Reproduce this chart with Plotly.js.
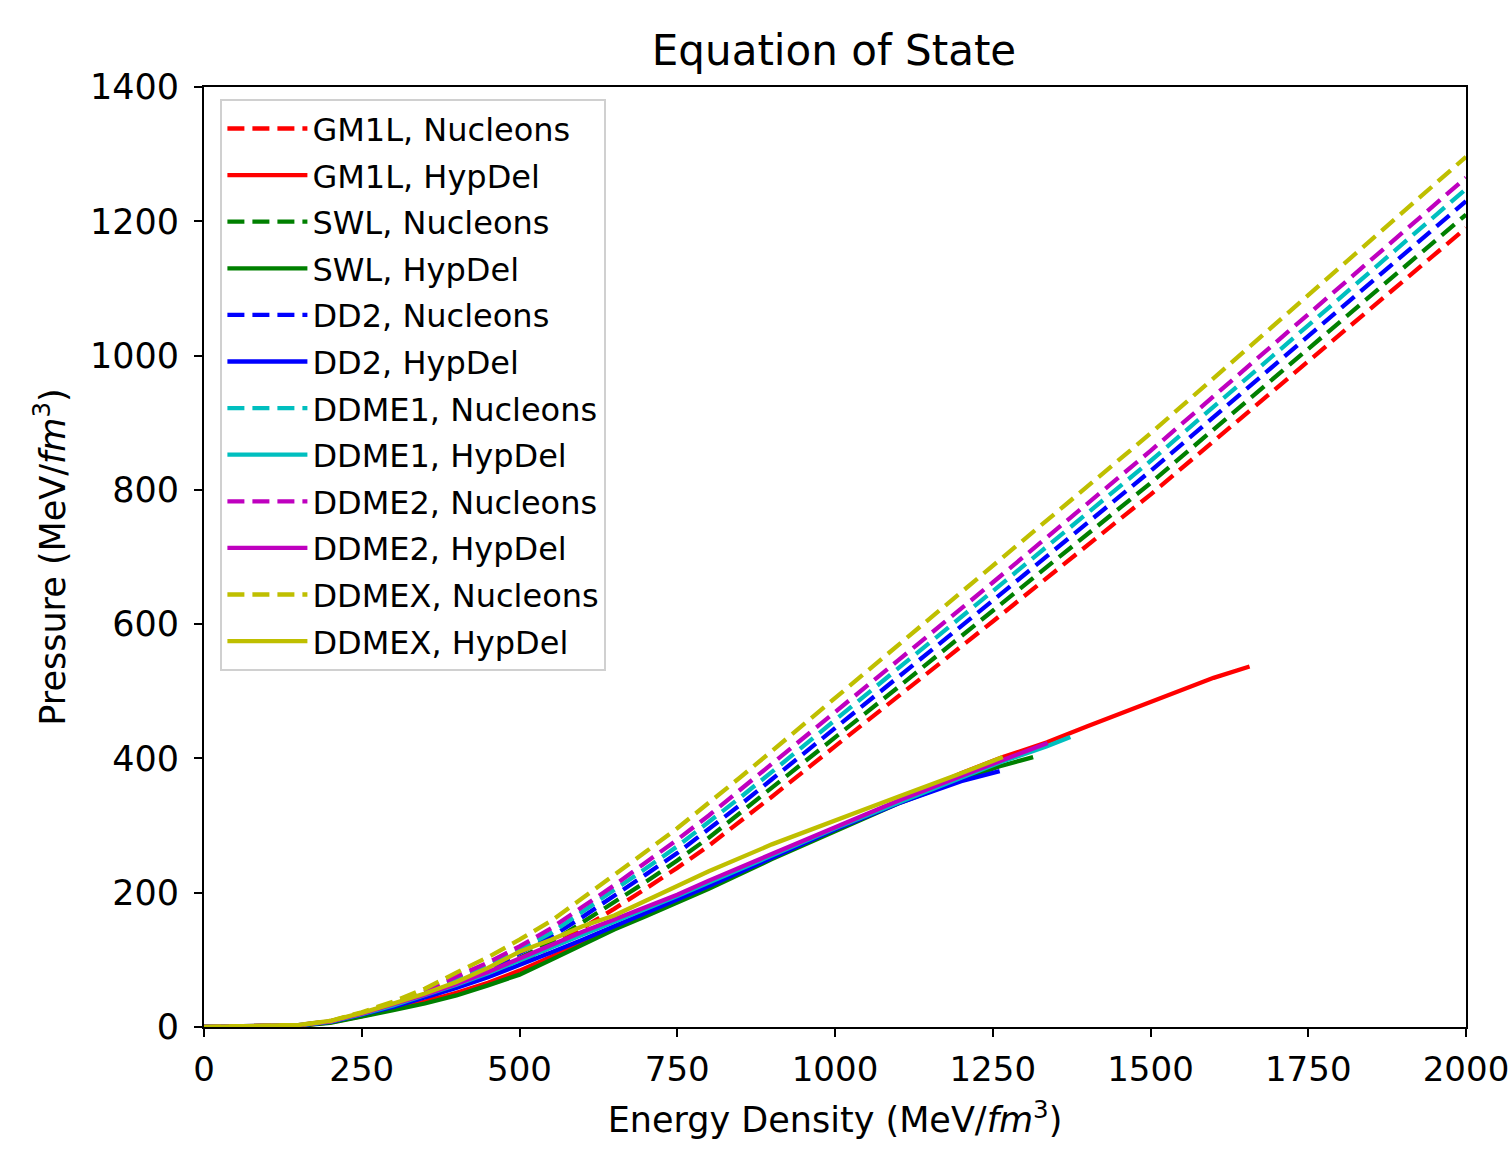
<!DOCTYPE html>
<html>
<head>
<meta charset="utf-8">
<script src="https://cdn.plot.ly/plotly-3.0.1.min.js"></script>
<style>html,body{margin:0;padding:0;background:#fff;}#chart{width:1509px;height:1161px;}</style>
</head>
<body>
<div id="chart"></div>
<script>
// Energy density grid for the nucleons-only curves (MeV/fm^3)
const epsNuc = [0,100,150,200,250,300,350,400,450,500,550,600,650,700,750,800,850,900,1000,1100,1250,1500,1750,2000];
const gm1lNuc  = [0,1,2.5,7,17,28,42,61,77,97,119,147,176,206,237,270,306,343,418,492,604,793,991,1190];
const swlNuc   = [0,1,2.6,7.4,18,30,45,65,82,103,126,156,186,216,248,282,319,356,432,506,620,810,1010,1210];
const dd2Nuc   = [0,1,2.7,7.8,19,32,48,69,87,110,134,164,195,227,259,294,331,369,445,521,635,828,1029,1230];
const ddme1Nuc = [0,1,2.8,8.1,20,33.5,50,72,92,115,140,172,203,236,269,305,342,380,458,534,649,843,1045,1248];
const ddme2Nuc = [0,1,2.9,8.4,20.6,35,53,75,96,120,147,179,211,245,279,315,353,391,469,546,662,858,1061,1265];
const ddmexNuc = [0,1,3,9,22,38,57,81,104,130,158,192,226,261,296,333,372,411,490,568,686,884,1090,1296];

// Hyperons + Deltas curves
const gm1lHypX  = [0,100,150,200,250,300,350,400,450,500,550,600,650,700,750,800,900,1000,1100,1200,1266,1336,1400,1500,1600,1657];
const gm1lHypY  = [0,1,2,7,16,27,38,51,66,84,104,125,147,168,189,210,254,296,336,378,402,424,448,484,520,537];
const swlHypX   = [0,100,150,200,250,300,350,400,450,500,550,600,650,700,750,800,900,1000,1100,1200,1260,1314];
const swlHypY   = [0,1,2,6,15,25,35,47,62,78,100,122,145,165,186,206,250,292,333,368,388,402];
const dd2HypX   = [0,100,150,200,250,300,350,400,450,500,550,600,650,700,750,800,900,1000,1100,1200,1261];
const dd2HypY   = [0,1,2.5,7.5,18,30,44,58,74,92,111,130,150,170,190,210,252,294,333,366,381];
const ddme1HypX = [0,100,150,200,250,300,350,400,450,500,550,600,650,700,750,800,900,1000,1100,1200,1264,1336,1373];
const ddme1HypY = [0,1,2.7,8,19,32,47,63,80,99,118,137,156,175,195,215,255,296,334,372,395,418,432];
const ddme2HypX = [0,100,150,200,250,300,350,400,450,500,550,600,650,700,750,800,900,1000,1100,1200,1266,1337];
const ddme2HypY = [0,1,2.8,8.5,20,34,48,64,82,102,122,142,160,178,197,218,258,298,337,374,398,423];
const ddmexHypX = [0,100,150,200,250,300,350,400,450,500,550,600,650,700,750,800,900,1000,1100,1200,1266];
const ddmexHypY = [0,1,3,9,21,35,50,67,88,112,130,150,166,188,210,232,272,308,343,378,402];

const models = ["GM1L","SWL","DD2","DDME1","DDME2","DDMEX"];
const colors = ["#ff0000","#008000","#0000ff","#00bfbf","#bf00bf","#bfbf00"];
const nucY = [gm1lNuc, swlNuc, dd2Nuc, ddme1Nuc, ddme2Nuc, ddmexNuc];
const hypX = [gm1lHypX, swlHypX, dd2HypX, ddme1HypX, ddme2HypX, ddmexHypX];
const hypY = [gm1lHypY, swlHypY, dd2HypY, ddme1HypY, ddme2HypY, ddmexHypY];

const traces = [];
models.forEach((m, i) => {
  traces.push({x: epsNuc, y: nucY[i], mode: "lines", name: m + ", Nucleons",
    legendgroup: m + "N",
    line: {color: colors[i], width: 4.3, dash: "17px,8px"}});
  traces.push({x: hypX[i], y: hypY[i], mode: "lines", name: m + ", HypDel",
    legendgroup: m + "H",
    line: {color: colors[i], width: 4.3}});
});

const fontFam = "DejaVu Sans, sans-serif";
const layout = {
  width: 1509, height: 1161,
  margin: {l: 204, r: 43, t: 87, b: 134},
  paper_bgcolor: "#fff", plot_bgcolor: "#fff",
  font: {family: fontFam, size: 32, color: "#000"},
  title: {text: "Equation of State", font: {size: 42, family: fontFam, color: "#000"},
          x: 0.5527, xanchor: "center", y: 0.957, yanchor: "middle"},
  xaxis: {range: [0, 2000], tickvals: [0,250,500,750,1000,1250,1500,1750,2000],
          showgrid: false, zeroline: false, showline: true, mirror: true,
          linecolor: "#000", linewidth: 2, ticks: "outside", ticklen: 8, tickwidth: 2, tickcolor: "#000",
          tickfont: {size: 34}, ticklabelstandoff: 3, ticklabeloverflow: "allow",
          title: {text: "Energy Density (MeV/<i>fm</i><sup>3</sup>)", font: {size: 35}, standoff: 20}},
  yaxis: {range: [0, 1400], tickvals: [0,200,400,600,800,1000,1200,1400],
          showgrid: false, zeroline: false, showline: true, mirror: true,
          linecolor: "#000", linewidth: 2, ticks: "outside", ticklen: 8, tickwidth: 2, tickcolor: "#000",
          tickfont: {size: 35}, ticklabelstandoff: 8, ticklabeloverflow: "allow",
          title: {text: "Pressure (MeV/<i>fm</i><sup>3</sup>)", font: {size: 35}, standoff: 14}},
  legend: {x: 0.013, y: 0.987, xanchor: "left", yanchor: "top",
           bgcolor: "rgba(255,255,255,0.8)", bordercolor: "#d0d0d0", borderwidth: 2,
           font: {size: 32}, tracegroupgap: 2, itemwidth: 80},
  showlegend: true
};

Plotly.newPlot("chart", traces, layout, {displayModeBar: false, staticPlot: true});
</script>
</body>
</html>
